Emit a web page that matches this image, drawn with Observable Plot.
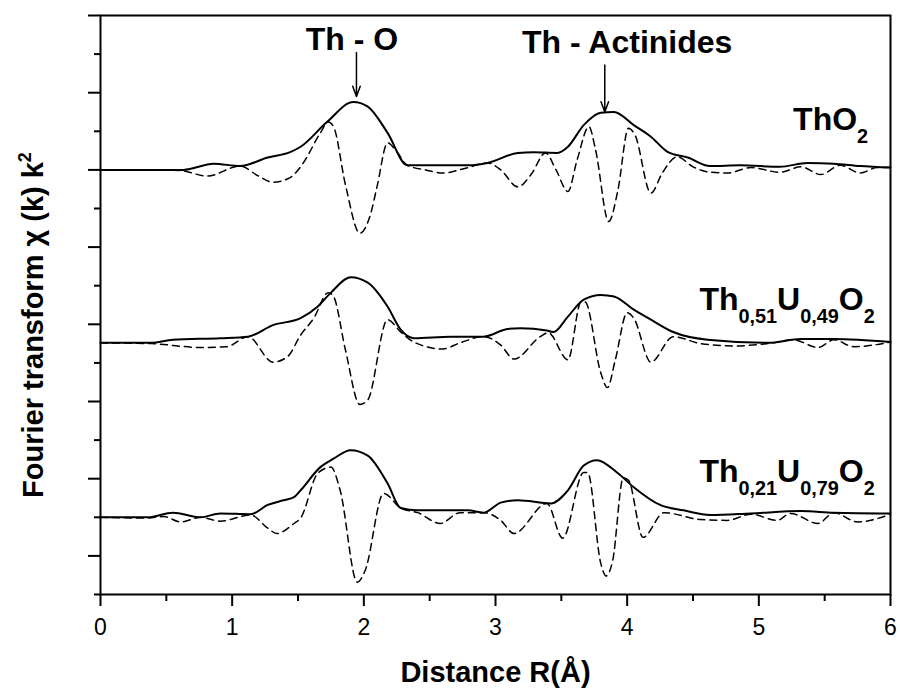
<!DOCTYPE html>
<html><head><meta charset="utf-8">
<script src="https://cdn.jsdelivr.net/npm/d3@7"></script>
<script src="https://cdn.jsdelivr.net/npm/@observablehq/plot@0.6"></script>
<style>body{margin:0;background:#fff}</style>
</head><body><div id="chart"></div>
<script>
// ---- tick values ----
const xTicks = [0, 1, 2, 3, 4, 5, 6];
const xMinorTicks = [0.5, 1.5, 2.5, 3.5, 4.5, 5.5];
const yMajorTicks = [0, 1, 2, 3, 4, 5, 6, 7];
const yMinorTicks = [-0.5, 0.5, 1.5, 2.5, 3.5, 4.5, 5.5, 6.5];

// ---- samples (stacked with vertical offsets) ----
const samples = ["ThO2", "Th0.51U0.49O2", "Th0.21U0.79O2"];
const sampleLabels = ["ThO_{2}", "Th_{0,51}U_{0,49}O_{2}", "Th_{0,21}U_{0,79}O_{2}"];
const sampleOffsets = [5, 2.76, 0.5];
const labelR = [5.83, 5.88, 5.88];
const labelLevel = [0.65, 0.56, 0.59];

// ---- |FT| (solid) and Im FT (dashed), [R (Å), value] ----
const thO2Magnitude = [[0,0],[0.38,0],[0.63,0],[0.86,0.08],[1.06,0.05],[1.27,0.16],[1.44,0.23],[1.52,0.30],[1.72,0.62],[1.92,0.88],[2.03,0.82],[2.18,0.48],[2.33,0.06],[2.53,0.06],[2.79,0.06],[2.94,0.09],[3.17,0.22],[3.29,0.23],[3.47,0.22],[3.55,0.30],[3.67,0.58],[3.80,0.74],[3.90,0.75],[4.05,0.58],[4.18,0.43],[4.31,0.23],[4.46,0.16],[4.63,0.05],[4.86,0.06],[5.16,0.04],[5.37,0.09],[5.57,0.08],[5.77,0.05],[6.0,0.03]];
const thO2Imaginary = [[0,0],[0.38,0],[0.61,-0.01],[0.81,-0.08],[1.06,0.05],[1.20,-0.08],[1.31,-0.16],[1.44,-0.10],[1.54,0.09],[1.67,0.48],[1.73,0.62],[1.77,0.56],[1.86,-0.19],[1.97,-0.82],[2.05,-0.58],[2.10,-0.22],[2.18,0.35],[2.24,0.26],[2.33,0.06],[2.47,0],[2.60,-0.04],[2.79,0.03],[2.94,0.09],[3.04,0],[3.17,-0.22],[3.27,-0.06],[3.38,0.22],[3.46,0],[3.55,-0.28],[3.62,0.13],[3.71,0.56],[3.76,0.26],[3.86,-0.67],[3.93,-0.26],[4.01,0.54],[4.06,0.45],[4.18,-0.30],[4.27,-0.03],[4.38,0.17],[4.50,0.04],[4.63,-0.03],[4.76,-0.04],[4.94,0.03],[5.16,-0.03],[5.32,0.04],[5.47,-0.06],[5.62,0.06],[5.77,-0.04],[5.90,0.03],[6.0,0.03]];

const th51Magnitude = [[0,0],[0.38,0],[0.55,0.04],[0.91,0.06],[1.12,0.08],[1.31,0.23],[1.52,0.32],[1.65,0.47],[1.75,0.65],[1.90,0.85],[2.03,0.78],[2.18,0.47],[2.28,0.17],[2.38,0.06],[2.66,0.08],[2.91,0.08],[3.09,0.18],[3.19,0.19],[3.39,0.16],[3.44,0.14],[3.55,0.34],[3.67,0.56],[3.80,0.62],[3.90,0.60],[4.05,0.43],[4.18,0.30],[4.35,0.14],[4.61,0.04],[5.07,0],[5.32,0.05],[5.57,0.05],[6.0,0.01]];
const th51Imaginary = [[0,0],[0.38,-0.01],[0.76,-0.06],[0.96,-0.05],[1.12,0.08],[1.31,-0.25],[1.42,-0.18],[1.52,0.10],[1.62,0.32],[1.73,0.65],[1.77,0.60],[1.86,-0.09],[1.97,-0.80],[2.03,-0.74],[2.18,0.30],[2.28,0.14],[2.38,0.01],[2.60,-0.08],[2.73,0],[2.91,0.08],[3.04,-0.03],[3.14,-0.21],[3.34,0.08],[3.40,0.13],[3.55,-0.22],[3.65,0.53],[3.68,0.53],[3.80,-0.39],[3.85,-0.58],[3.91,-0.22],[4.00,0.39],[4.05,0.32],[4.18,-0.25],[4.35,0.08],[4.56,-0.01],[4.81,-0.04],[5.11,0],[5.26,0.04],[5.45,-0.06],[5.57,0.04],[5.72,-0.05],[6.0,0.01]];

const th21Magnitude = [[0,0],[0.36,0],[0.55,0.06],[0.76,0],[0.91,0.05],[1.14,0.04],[1.27,0.16],[1.39,0.22],[1.47,0.26],[1.52,0.35],[1.67,0.65],[1.77,0.76],[1.90,0.87],[2.03,0.80],[2.18,0.44],[2.28,0.12],[2.41,0.09],[2.79,0.09],[2.91,0.06],[3.04,0.19],[3.17,0.22],[3.42,0.18],[3.55,0.35],[3.67,0.67],[3.77,0.74],[3.93,0.57],[4.05,0.39],[4.25,0.16],[4.43,0.09],[4.63,0.03],[4.94,0.05],[5.32,0.08],[5.57,0.06],[6.0,0.05]];
const th21Imaginary = [[0,0],[0.36,-0.01],[0.48,0.01],[0.61,-0.06],[0.76,0],[0.91,-0.05],[1.14,0.03],[1.27,-0.14],[1.34,-0.21],[1.47,-0.08],[1.52,-0.01],[1.65,0.57],[1.75,0.65],[1.82,0.35],[1.95,-0.84],[2.01,-0.69],[2.15,0.31],[2.28,0.12],[2.41,0.06],[2.58,-0.08],[2.73,0.06],[2.91,0.06],[3.04,-0.04],[3.14,-0.21],[3.39,0.18],[3.51,-0.27],[3.67,0.58],[3.70,0.58],[3.80,-0.60],[3.84,-0.76],[3.89,-0.56],[3.97,0.51],[4.01,0.48],[4.12,-0.26],[4.28,0.06],[4.56,-0.03],[4.76,-0.04],[4.94,0.04],[5.14,-0.04],[5.24,0.05],[5.45,-0.08],[5.57,0.06],[5.75,-0.06],[6.0,0.04]];

const magnitudes = [thO2Magnitude, th51Magnitude, th21Magnitude];
const imaginaries = [thO2Imaginary, th51Imaginary, th21Imaginary];

// ---- peak annotations ----
const peakNames = ["Th - O", "Th - Actinides"];
const peakR = [1.944, 3.83];
const peakTextR = [1.91, 4.0];
const peakTextLevel = [6.68, 6.65];
const arrowTop = [6.52, 6.36];
const arrowTip = [5.95, 5.75];

// ---- build tables ----
const magRows = [], imRows = [];
samples.forEach((s, i) => {
  magnitudes[i].forEach(([r, v]) => magRows.push({sample: s, R: r, value: v + sampleOffsets[i]}));
  imaginaries[i].forEach(([r, v]) => imRows.push({sample: s, R: r, value: v + sampleOffsets[i]}));
});
const labelRows = samples.map((s, i) => ({label: sampleLabels[i], R: labelR[i], y: labelLevel[i] + sampleOffsets[i]}));
const peakRows = peakNames.map((n, i) => ({name: n, R: peakR[i], tr: peakTextR[i], ty: peakTextLevel[i], y1: arrowTop[i], y2: arrowTip[i]}));

const FONT = '"Liberation Sans", Arial, Helvetica, sans-serif';
const blank = () => "";

const chart = Plot.plot({
  width: 900,
  height: 691,
  marginLeft: 100,
  marginRight: 10,
  marginTop: 15,
  marginBottom: 97,
  x: {domain: [0, 6]},
  y: {domain: [-0.5, 7]},
  style: {fontFamily: FONT, background: "white", color: "black", overflow: "visible"},
  marks: [
    Plot.axisX({ticks: xMinorTicks, tickSize: 7, tickFormat: blank, strokeWidth: 2, label: null}),
    Plot.axisX({ticks: xTicks, tickSize: 12, tickPadding: 12, strokeWidth: 2, fontSize: 23, label: null, tickFormat: d => String(d)}),
    Plot.axisY({ticks: yMinorTicks, tickSize: 6, tickFormat: blank, strokeWidth: 2, label: null}),
    Plot.axisY({ticks: yMajorTicks, tickSize: 12, tickFormat: blank, strokeWidth: 2, label: null}),
    Plot.frame({stroke: "black", strokeWidth: 2}),
    Plot.line(imRows, {x: "R", y: "value", z: "sample", curve: "monotone-x", stroke: "black", strokeWidth: 1.5, strokeDasharray: "7,5"}),
    Plot.line(magRows, {x: "R", y: "value", z: "sample", curve: "monotone-x", stroke: "black", strokeWidth: 2}),
    Plot.arrow(peakRows, {x1: "R", x2: "R", y1: "y1", y2: "y2", stroke: "black", strokeWidth: 1.5, headLength: 11, headAngle: 40}),
    Plot.text(peakRows, {x: "tr", y: "ty", text: "name", fontSize: 32, fontWeight: "bold", textAnchor: "middle", lineAnchor: "middle", fill: "black"}),
    Plot.text(labelRows, {x: "R", y: "y", text: "label", fontSize: 32, fontWeight: "bold", textAnchor: "end", lineAnchor: "middle", fill: "black"}),
    Plot.text(["Distance R(Å)"], {frameAnchor: "bottom", dy: 78, text: d => d, fontSize: 29, fontWeight: "bold", textAnchor: "middle", lineAnchor: "middle", fill: "black"}),
    Plot.text(["Fourier transform χ (k) k^{2}"], {frameAnchor: "left", dx: -67, dy: 20, rotate: -90, text: d => d, fontSize: 29, fontWeight: "bold", textAnchor: "middle", lineAnchor: "middle", fill: "black"})
  ]
});

// rich text: _{sub} and ^{sup}
d3.select(chart).selectAll("text").each(function () {
  const t = this.textContent;
  if (!/[_^]\{/.test(t)) return;
  const el = d3.select(this);
  let base = parseFloat(el.attr("font-size"));
  if (!base) { const g = this.closest("[font-size]"); base = g ? parseFloat(g.getAttribute("font-size")) : 32; }
  const parts = t.match(/_\{[^}]*\}|\^\{[^}]*\}|[^_^]+/g);
  el.text("");
  let shift = 0;
  parts.forEach(p => {
    let kind = "n", s = p;
    if (p.startsWith("_{")) { kind = "sub"; s = p.slice(2, -1); }
    else if (p.startsWith("^{")) { kind = "sup"; s = p.slice(2, -1); }
    const target = kind === "sub" ? base * 0.4 : kind === "sup" ? -base * 0.42 : 0;
    const ts = el.append("tspan").text(s).attr("dy", target - shift);
    if (kind !== "n") ts.attr("font-size", base * 0.62);
    shift = target;
  });
});

document.getElementById("chart").appendChild(chart);
</script>
</body></html>
